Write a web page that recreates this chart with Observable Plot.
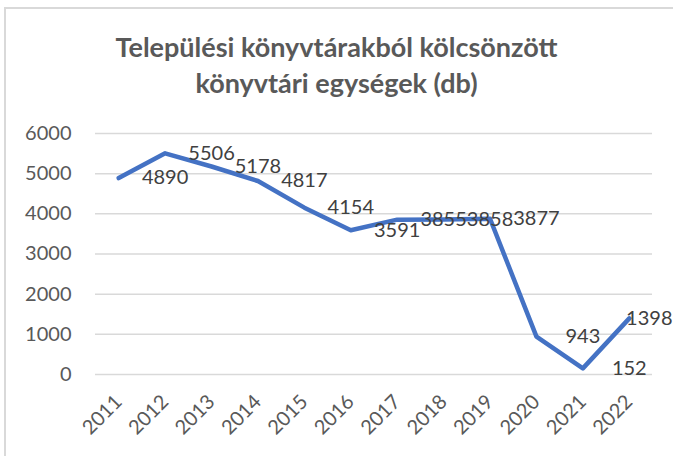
<!DOCTYPE html>
<html>
<head>
<meta charset="utf-8">
<script src="https://cdn.jsdelivr.net/npm/d3@7"></script>
<script src="https://cdn.jsdelivr.net/npm/@observablehq/plot@0.6"></script>
<style>
  html, body { margin: 0; padding: 0; background: #fff; }
  #wrap { position: relative; width: 673px; height: 456px; overflow: hidden; background: #fff; font-family: Lato, "Open Sans", sans-serif; }
  #frame { position: absolute; left: 4px; top: 7px; width: 700px; height: 480px; border-left: 2px solid #d9d9d9; border-top: 2px solid #d9d9d9; box-sizing: border-box; }
  #title { position: absolute; left: 0; width: 673px; top: 29px; text-align: center; font-weight: 700; font-size: 27px; line-height: 36px; color: #595959; }
  #chart { position: absolute; left: 0; top: 0; }
</style>
</head>
<body>
<div id="wrap">
  <div id="frame"></div>
  <div id="chart"></div>
  <div id="title">Települési könyvtárakból kölcsönzött<br>könyvtári egységek (db)</div>
</div>
<script>
const years = [2011, 2012, 2013, 2014, 2015, 2016, 2017, 2018, 2019, 2020, 2021, 2022];
const values = [4890, 5506, 5178, 4817, 4154, 3591, 3855, 3858, 3877, 943, 152, 1398];
const yTicks = [0, 1000, 2000, 3000, 4000, 5000, 6000];

const data = years.map((year, i) => ({year, value: values[i]}));
const innerLabels = data.slice(0, -1).map((d, i) => ({x: years[i + 1], value: d.value}));
const lastLabel = [data[data.length - 1]];

const plot = Plot.plot({
  width: 673,
  height: 456,
  marginLeft: 95,
  marginRight: 21,
  marginTop: 133,
  marginBottom: 82,
  style: {background: "transparent", fontFamily: "Lato, 'Open Sans', sans-serif", overflow: "visible"},
  x: {domain: [years[0] - 0.5, years[years.length - 1] + 0.5], label: null},
  y: {domain: [0, 6000], label: null},
  marks: [
    Plot.gridY(yTicks, {stroke: "#d9d9d9", strokeOpacity: 1, strokeWidth: 1.5}),
    Plot.axisY(yTicks, {tickSize: 0, tickPadding: 24, fontSize: 20, fill: "#595959", tickFormat: d => String(d), label: null}),
    Plot.axisX(years, {tickSize: 0, tickPadding: 24, tickRotate: -45, fontSize: 20, fill: "#595959", tickFormat: d => String(d), label: null}),
    Plot.line(data, {x: "year", y: "value", stroke: "#4472C4", strokeWidth: 4.5, strokeLinejoin: "round", strokeLinecap: "round"}),
    Plot.text(innerLabels, {x: "x", y: "value", text: d => String(d.value), fontSize: 20, fill: "#404040"}),
    Plot.text(lastLabel, {x: "year", y: "value", text: d => String(d.value), fontSize: 20, fill: "#404040", dx: 20})
  ]
});
document.getElementById("chart").appendChild(plot);
</script>
</body>
</html>
